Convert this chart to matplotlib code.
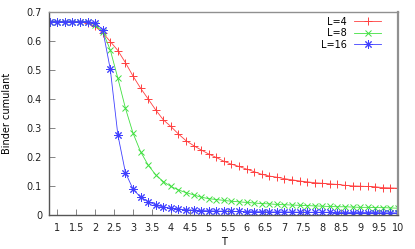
import matplotlib
matplotlib.use("Agg")
import matplotlib.pyplot as plt

T = [0.8, 1.0, 1.2, 1.4, 1.6, 1.8, 2.0, 2.2, 2.4, 2.6, 2.8, 3.0, 3.2, 3.4, 3.6, 3.8,
     4.0, 4.2, 4.4, 4.6, 4.8, 5.0, 5.2, 5.4, 5.6, 5.8, 6.0, 6.2, 6.4, 6.6, 6.8, 7.0,
     7.2, 7.4, 7.6, 7.8, 8.0, 8.2, 8.4, 8.6, 8.8, 9.0, 9.2, 9.4, 9.6, 9.8, 10.0]

L4 = [0.667, 0.667, 0.667, 0.667, 0.666, 0.662, 0.650, 0.628, 0.598, 0.567, 0.525,
      0.479, 0.437, 0.400, 0.362, 0.328, 0.305, 0.279, 0.256, 0.239, 0.224, 0.210,
      0.198, 0.185, 0.175, 0.167, 0.158, 0.149, 0.140, 0.134, 0.130, 0.125, 0.121,
      0.117, 0.114, 0.111, 0.109, 0.107, 0.105, 0.102, 0.100, 0.099, 0.098, 0.097,
      0.094, 0.093, 0.092]

L8 = [0.667, 0.667, 0.667, 0.667, 0.667, 0.667, 0.655, 0.632, 0.569, 0.471, 0.368,
      0.282, 0.218, 0.172, 0.138, 0.115, 0.098, 0.086, 0.077, 0.069, 0.061, 0.056,
      0.053, 0.050, 0.047, 0.045, 0.043, 0.041, 0.039, 0.038, 0.036, 0.035, 0.034,
      0.033, 0.032, 0.031, 0.030, 0.029, 0.028, 0.028, 0.027, 0.026, 0.026, 0.025,
      0.025, 0.024, 0.023]

L16 = [0.667, 0.667, 0.667, 0.667, 0.667, 0.667, 0.662, 0.639, 0.502, 0.276, 0.146,
       0.089, 0.061, 0.046, 0.034, 0.027, 0.023, 0.020, 0.018, 0.016, 0.015, 0.014,
       0.013, 0.013, 0.012, 0.012, 0.011, 0.011, 0.011, 0.010, 0.010, 0.010, 0.010,
       0.009, 0.009, 0.009, 0.009, 0.009, 0.008, 0.008, 0.008, 0.008, 0.008, 0.008,
       0.007, 0.007, 0.007]

labels = ["L=4", "L=8", "L=16"]
xticks = [1, 1.5, 2, 2.5, 3, 3.5, 4, 4.5, 5, 5.5, 6, 6.5, 7, 7.5, 8, 8.5, 9, 9.5, 10]
xtick_labels = ["1", "1.5", "2", "2.5", "3", "3.5", "4", "4.5", "5", "5.5", "6",
                "6.5", "7", "7.5", "8", "8.5", "9", "9.5", "10"]
yticks = [0, 0.1, 0.2, 0.3, 0.4, 0.5, 0.6, 0.7]
ytick_labels = ["0", "0.1", "0.2", "0.3", "0.4", "0.5", "0.6", "0.7"]

plt.rcParams['font.family'] = ['DejaVu Sans']
fig = plt.figure(figsize=(4.15, 2.49), dpi=100)
ax = fig.add_axes([0.118, 0.137, 0.841, 0.815])

styles = [
    dict(color='#ff4040', marker='+', ms=5.5, mew=0.7),
    dict(color='#40e040', marker='x', ms=4.5, mew=0.7),
    dict(color='#4040ff', marker=(8, 2, 0), ms=6, mew=0.7),
]
for y, lab, st in zip([L4, L8, L16], labels, styles):
    ax.plot(T, y, lw=0.6, label=lab, **st)

ax.set_xlim(0.78, 10)
ax.set_ylim(0, 0.7)
ax.set_xticks(xticks)
ax.set_xticklabels(xtick_labels)
ax.set_yticks(yticks)
ax.set_yticklabels(ytick_labels)
ax.tick_params(direction='in', length=4, width=0.6, color='#707070',
               labelsize=7, colors='#222222', pad=5)
ax.tick_params(axis='x', pad=6)
for side, sp in ax.spines.items():
    sp.set_color('#909090')
    sp.set_linewidth(1.0)
ax.spines['right'].set_linewidth(1.6)
ax.spines['left'].set_color('#555555')
ax.spines['bottom'].set_color('#555555')

ax.set_xlabel("T", fontsize=7)
ax.set_ylabel("Binder cumulant", fontsize=7)
ax.xaxis.set_label_coords(0.5, -0.108)
ax.yaxis.set_label_coords(-0.106, 0.5)

leg = ax.legend(loc='upper right', bbox_to_anchor=(0.972, 1.01), frameon=False,
                markerfirst=False, fontsize=7, handlelength=2.8, handletextpad=0.8,
                labelspacing=0.15, borderpad=0.2)

fig.savefig("out.png", dpi=100)
